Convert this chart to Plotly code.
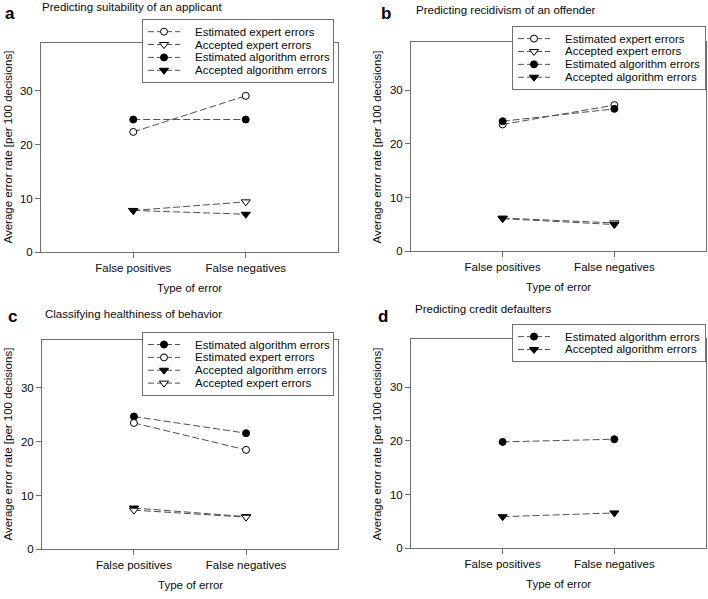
import plotly.graph_objects as go

# ---------------- data ----------------
categories = ["False positives", "False negatives"]
y_tick_values = [0, 10, 20, 30]

panel_titles = [
    "Predicting suitability of an applicant",
    "Predicting recidivism of an offender",
    "Classifying healthiness of behavior",
    "Predicting credit defaulters",
]
panel_letters = ["a", "b", "c", "d"]
x_title = "Type of error"
y_title = "Average error rate [per 100 decisions]"

# panel a
a_est_expert = [22.4, 29.1]
a_acc_expert = [7.8, 9.4]
a_est_algo = [24.7, 24.7]
a_acc_algo = [7.8, 7.1]
# panel b
b_est_expert = [23.6, 27.2]
b_acc_expert = [6.2, 5.3]
b_est_algo = [24.2, 26.5]
b_acc_algo = [6.1, 5.0]
# panel c
c_est_algo = [24.7, 21.6]
c_est_expert = [23.5, 18.5]
c_acc_algo = [7.7, 6.1]
c_acc_expert = [7.3, 6.0]
# panel d
d_est_algo = [19.8, 20.3]
d_acc_algo = [5.9, 6.6]

series_names = {
    "est_expert": "Estimated expert errors",
    "acc_expert": "Accepted expert errors",
    "est_algo": "Estimated algorithm errors",
    "acc_algo": "Accepted algorithm errors",
}

panels_series = [
    [("est_expert", a_est_expert), ("acc_expert", a_acc_expert),
     ("est_algo", a_est_algo), ("acc_algo", a_acc_algo)],
    [("est_expert", b_est_expert), ("acc_expert", b_acc_expert),
     ("est_algo", b_est_algo), ("acc_algo", b_acc_algo)],
    [("est_algo", c_est_algo), ("est_expert", c_est_expert),
     ("acc_algo", c_acc_algo), ("acc_expert", c_acc_expert)],
    [("est_algo", d_est_algo), ("acc_algo", d_acc_algo)],
]

# ---------------- styles / layout ----------------
W, H = 708, 599
FONT = "Liberation Sans, Arial, sans-serif"
FS = 11.5
TEXT = "#0a0a0a"
FRAME = "#6f6f6f"
LINE = "#505050"

styles = {
    "est_expert": dict(symbol="circle", color="white", size=7),
    "acc_expert": dict(symbol="triangle-down", color="white", size=8),
    "est_algo": dict(symbol="circle", color="black", size=7),
    "acc_algo": dict(symbol="triangle-down", color="black", size=8),
}

# plot boxes in pixels (left, right, top, bottom)
plot_boxes = [(41, 338, 43, 255), (411, 706, 42, 254),
              (42, 338, 343, 555), (411, 706, 342, 554)]
# legend boxes in pixels (left, right, top)
legend_boxes = [(143, 333, 20), (513, 705, 27), (143, 333, 336), (513, 705, 328)]
title_pos = [(40, 7), (414, 10), (43, 317), (413, 312)]
letter_pos = [(10, 14), (386, 14), (12, 320), (383, 320)]
ytitle_x = [8, 377, 8, 377]
xtitle_y = [291, 290, 591, 590]

ROW = 13


def px_x(v):
    return v / W


def px_y(v):
    return 1 - v / H


fig = go.Figure()
layout = dict(
    width=W, height=H,
    margin=dict(l=0, r=0, t=0, b=0),
    paper_bgcolor="white", plot_bgcolor="white",
    showlegend=False, hovermode=False,
    font=dict(family=FONT, size=FS, color=TEXT),
)
annotations = []

for p, series in enumerate(panels_series):
    n = p + 1
    xa = "x" if n == 1 else f"x{n}"
    ya = "y" if n == 1 else f"y{n}"
    l, r, t, b = plot_boxes[p]
    layout["xaxis" if n == 1 else f"xaxis{n}"] = dict(
        domain=[px_x(l), px_x(r)], anchor=ya,
        type="category", categoryorder="array", categoryarray=categories,
        range=[-0.82, 1.82],
        showline=True, mirror=True, linecolor=FRAME, linewidth=1,
        ticks="outside", ticklen=5, tickcolor=FRAME,
        showgrid=False, zeroline=False,
        tickfont=dict(family=FONT, size=FS, color=TEXT),
        fixedrange=True,
    )
    layout["yaxis" if n == 1 else f"yaxis{n}"] = dict(
        domain=[px_y(b), px_y(t)], anchor=xa,
        range=[0, 39], tickvals=y_tick_values,
        showline=True, mirror=True, linecolor=FRAME, linewidth=1,
        ticks="outside", ticklen=5, tickcolor=FRAME,
        showgrid=False, zeroline=False,
        tickfont=dict(family=FONT, size=FS, color=TEXT),
        fixedrange=True,
    )
    for key, vals in series:
        st = styles[key]
        fig.add_trace(go.Scatter(
            x=categories, y=vals, xaxis=xa, yaxis=ya,
            mode="lines+markers", name=series_names[key],
            line=dict(color=LINE, width=1, dash="7px,3px"),
            marker=dict(symbol=st["symbol"], size=st["size"], color=st["color"],
                        line=dict(color="black", width=1)),
            cliponaxis=False,
        ))

    # titles, letters, axis titles
    tx, ty = title_pos[p]
    annotations.append(dict(text=panel_titles[p], xref="paper", yref="paper",
                            x=px_x(tx), y=px_y(ty), xanchor="left", yanchor="middle",
                            showarrow=False, font=dict(family=FONT, size=FS, color=TEXT)))
    lx, ly = letter_pos[p]
    annotations.append(dict(text="<b>" + panel_letters[p] + "</b>", xref="paper", yref="paper",
                            x=px_x(lx), y=px_y(ly), xanchor="center", yanchor="middle",
                            showarrow=False, font=dict(family=FONT, size=17, color="black")))
    annotations.append(dict(text=y_title, xref="paper", yref="paper",
                            x=px_x(ytitle_x[p]), y=px_y((t + b) / 2), textangle=-90,
                            xanchor="center", yanchor="middle",
                            showarrow=False, font=dict(family=FONT, size=FS, color=TEXT)))
    annotations.append(dict(text=x_title, xref="paper", yref="paper",
                            x=px_x((l + r) / 2), y=px_y(xtitle_y[p]),
                            xanchor="center", yanchor="middle",
                            showarrow=False, font=dict(family=FONT, size=FS, color=TEXT)))

    # custom legend box drawn as an overlaid subplot
    m = n + 4
    lxa, lya = f"x{m}", f"y{m}"
    bl, br, bt = legend_boxes[p]
    bh = ROW * len(series) + 11
    bw = br - bl
    layout[f"xaxis{m}"] = dict(domain=[px_x(bl), px_x(br)], anchor=lya, range=[0, bw],
                               showline=True, mirror=True, linecolor=FRAME, linewidth=1,
                               ticks="", showticklabels=False, showgrid=False,
                               zeroline=False, fixedrange=True)
    layout[f"yaxis{m}"] = dict(domain=[px_y(bt + bh), px_y(bt)], anchor=lxa, range=[bh, 0],
                               showline=True, mirror=True, linecolor=FRAME, linewidth=1,
                               ticks="", showticklabels=False, showgrid=False,
                               zeroline=False, fixedrange=True)
    for i, (key, vals) in enumerate(series):
        st = styles[key]
        yrow = 12 + ROW * i
        fig.add_trace(go.Scatter(
            x=[5, 37], y=[yrow, yrow], xaxis=lxa, yaxis=lya, mode="lines",
            line=dict(color=LINE, width=1, dash="6px,3px"), showlegend=False))
        fig.add_trace(go.Scatter(
            x=[21], y=[yrow], xaxis=lxa, yaxis=lya, mode="markers",
            marker=dict(symbol=st["symbol"], size=st["size"], color=st["color"],
                        line=dict(color="black", width=1)), showlegend=False))
        annotations.append(dict(text=series_names[key], xref=lxa, yref=lya,
                                x=50, y=yrow, xanchor="left", yanchor="middle",
                                showarrow=False,
                                font=dict(family=FONT, size=FS, color=TEXT)))

layout["annotations"] = annotations
fig.update_layout(**layout)
fig.write_html(
    "out.html",
    config={"displayModeBar": False, "staticPlot": True},
    post_script="document.body.style.margin='0';document.body.style.overflow='hidden';",
)
